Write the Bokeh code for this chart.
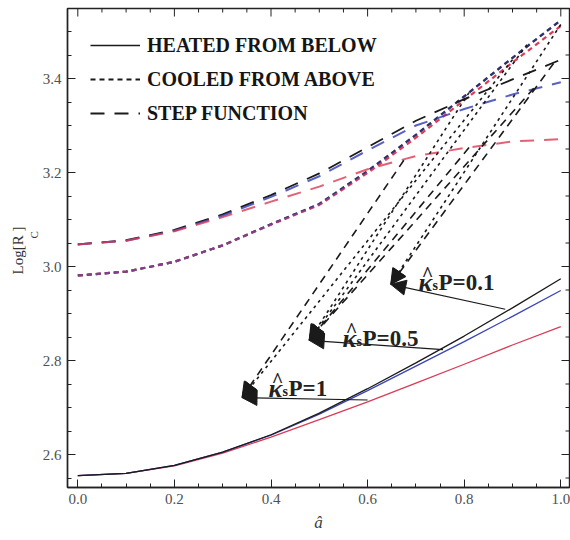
import math
from bokeh.plotting import figure
from bokeh.models import (Range1d, FixedTicker, Label, Arrow, NormalHead, Title,
                          ColumnDataSource, Legend, LegendItem, PrintfTickFormatter)
from bokeh.embed import file_html
from bokeh.resources import INLINE

# ---------------- data ----------------
a_hat = [0.0, 0.1, 0.2, 0.3, 0.4, 0.5, 0.6, 0.7, 0.8, 0.9, 1.0]

heated_black = [2.555, 2.560, 2.577, 2.605, 2.642, 2.688, 2.740, 2.795, 2.852, 2.912, 2.974]
heated_blue  = [2.555, 2.560, 2.577, 2.605, 2.641, 2.686, 2.736, 2.788, 2.840, 2.894, 2.949]
heated_red   = [2.555, 2.560, 2.576, 2.603, 2.637, 2.674, 2.712, 2.752, 2.792, 2.833, 2.872]

cooled_black = [2.981, 2.989, 3.010, 3.045, 3.090, 3.133, 3.203, 3.280, 3.362, 3.444, 3.524]
cooled_blue  = [2.981, 2.989, 3.010, 3.045, 3.090, 3.133, 3.203, 3.280, 3.362, 3.444, 3.524]
cooled_red   = [2.981, 2.989, 3.010, 3.045, 3.089, 3.131, 3.199, 3.274, 3.354, 3.434, 3.512]

step_black = [3.047, 3.056, 3.078, 3.111, 3.152, 3.198, 3.254, 3.310, 3.356, 3.398, 3.440]
step_blue  = [3.047, 3.055, 3.076, 3.108, 3.148, 3.192, 3.247, 3.300, 3.335, 3.366, 3.392]
step_red   = [3.047, 3.055, 3.075, 3.105, 3.138, 3.170, 3.207, 3.235, 3.252, 3.266, 3.271]

x_ticks = [0.0, 0.2, 0.4, 0.6, 0.8, 1.0]
y_ticks = [2.6, 2.8, 3.0, 3.2, 3.4]
x_minor = [round(0.05 * i, 2) for i in range(0, 21) if i % 4]
y_minor = [round(2.55 + 0.05 * i, 2) for i in range(0, 20) if (i - 1) % 4]

kappa_values = ["0.1", "0.5", "1"]
tip_x = [0.648, 0.479, 0.340]
tip_y = [2.962, 2.843, 2.721]
solid_from_x = [0.885, 0.756, 0.600]
solid_from_y = [2.909, 2.823, 2.716]

dashed_from_x = [0.985, 0.944, 0.810, 0.675]
dashed_from_y = [3.432, 3.379, 3.253, 3.226]
dashed_to = [0, 1, 1, 2]

dotted_from_x = [1.000, 0.930, 0.810, 0.900]
dotted_from_y = [3.515, 3.472, 3.370, 3.440]
dotted_to = [0, 1, 1, 2]

RED = "#dc3a55"
BLUE = "#3b44b8"
BLACK = "#1a1a1a"
FRAME = "#222222"

# ---------------- pixel helpers for text / tick placement ----------------
PX_X = 483.0
PX_Y = 470.0

def dx(px):
    return (px - 77.3) / PX_X

def dy(py):
    return 3.4 - (py - 78.0) / PX_Y

X0, X1 = dx(67), dx(569)
Y0, Y1 = dy(487), dy(8)

p = figure(width=570, height=540, output_backend="svg", toolbar_location=None,
           x_range=Range1d(X0, X1), y_range=Range1d(Y0, Y1),
           min_border_left=67, min_border_right=1, min_border_top=8, min_border_bottom=53,
           background_fill_color="white", border_fill_color="white")
p.grid.visible = False
p.outline_line_color = FRAME
p.outline_line_width = 1.4

for ax, tk, mn in ((p.xaxis[0], x_ticks, x_minor), (p.yaxis[0], y_ticks, y_minor)):
    ax.ticker = FixedTicker(ticks=tk, minor_ticks=mn)
    ax.formatter = PrintfTickFormatter(format="%.1f")
    ax.axis_line_color = FRAME
    ax.axis_line_width = 1.4
    ax.major_tick_in = 8
    ax.major_tick_out = 0
    ax.minor_tick_in = 4
    ax.minor_tick_out = 0
    ax.major_tick_line_color = FRAME
    ax.minor_tick_line_color = FRAME
    ax.major_label_text_font = "Liberation Serif"
    ax.major_label_text_font_size = "15px"
    ax.major_label_text_color = "#505050"
    ax.major_label_standoff = 6

p.xaxis[0].axis_label = "â"
p.xaxis[0].axis_label_text_font = "Liberation Serif"
p.xaxis[0].axis_label_text_font_style = "italic"
p.xaxis[0].axis_label_text_font_size = "17px"
p.xaxis[0].axis_label_text_color = "#404040"
p.xaxis[0].axis_label_standoff = 6

# ticks on the top and right edges of the frame
p.segment(x0=x_ticks, y0=[Y1] * len(x_ticks), x1=x_ticks, y1=[Y1 - 8 / PX_Y] * len(x_ticks),
          line_color=FRAME, line_width=1)
p.segment(x0=x_minor, y0=[Y1] * len(x_minor), x1=x_minor, y1=[Y1 - 4 / PX_Y] * len(x_minor),
          line_color=FRAME, line_width=1)
p.segment(x0=[X1] * len(y_ticks), y0=y_ticks, x1=[X1 - 8 / PX_X] * len(y_ticks), y1=y_ticks,
          line_color=FRAME, line_width=1)
p.segment(x0=[X1] * len(y_minor), y0=y_minor, x1=[X1 - 4 / PX_X] * len(y_minor), y1=y_minor,
          line_color=FRAME, line_width=1)

# ---------------- curves ----------------
DOT = "5 4"
DASH = "14 10"
r_cool_k = p.line(a_hat, cooled_black, line_color=BLACK, line_width=2.2, line_dash=DOT)
p.line(a_hat, cooled_red, line_color=RED, line_width=2.2, line_dash=DOT)
p.line(a_hat, cooled_blue, line_color=BLUE, line_width=2.2, line_dash=DOT, line_alpha=0.55)

r_step_k = p.line(a_hat, step_black, line_color=BLACK, line_width=1.8, line_dash=DASH)
p.line(a_hat, step_blue, line_color=BLUE, line_width=2.0, line_dash=DASH, line_alpha=0.85)
p.line(a_hat, step_red, line_color=RED, line_width=2.0, line_dash=DASH, line_alpha=0.8)

p.line(a_hat, heated_red, line_color=RED, line_width=1.3)
p.line(a_hat, heated_blue, line_color=BLUE, line_width=1.3)
r_heat_k = p.line(a_hat, heated_black, line_color=BLACK, line_width=1.3)

# ---------------- pointer arrows ----------------
def add_arrows(fx, fy, to_idx, dash, width):
    src = ColumnDataSource(dict(x0=fx, y0=fy,
                                x1=[tip_x[i] for i in to_idx],
                                y1=[tip_y[i] for i in to_idx]))
    p.add_layout(Arrow(source=src, x_start="x0", y_start="y0", x_end="x1", y_end="y1",
                       line_color=BLACK, line_width=width, line_dash=dash,
                       end=NormalHead(size=15, fill_color=BLACK, line_color=BLACK)))

add_arrows(dotted_from_x, dotted_from_y, dotted_to, "3 4", 1.6)
add_arrows(dashed_from_x, dashed_from_y, dashed_to, "8 6", 1.6)
add_arrows(solid_from_x, solid_from_y, [0, 1, 2], "solid", 1.2)

# ---------------- kappa labels ----------------
label_left_px = [418, 342, 268]
label_base_px = [282, 338, 388]
for val, lx, by in zip(kappa_values, label_left_px, label_base_px):
    p.add_layout(Label(x=dx(lx), y=dy(by), text="κ", text_font="Liberation Serif",
                       text_font_style="bold italic", text_font_size="26px",
                       text_color="#222222", text_baseline="alphabetic"))
    p.add_layout(Label(x=dx(lx + 9), y=dy(by - 9), text="^", text_font="Liberation Serif",
                       text_font_style="bold", text_font_size="20px", text_color="#222222",
                       text_align="center", text_baseline="alphabetic"))
    p.add_layout(Label(x=dx(lx + 14), y=dy(by + 3), text="s", text_font="Liberation Serif",
                       text_font_style="bold", text_font_size="14px",
                       text_color="#222222", text_baseline="alphabetic"))
    p.add_layout(Label(x=dx(lx + 20), y=dy(by), text="P=" + val, text_font="Liberation Serif",
                       text_font_style="bold", text_font_size="23px",
                       text_color="#222222", text_baseline="alphabetic"))

# ---------------- y axis label: Log[R_C] (two stacked titles in the left panel) ----------------
t_sub = Title(text="C", align="left", offset=487 - 238, standoff=0,
              text_font="Liberation Serif", text_font_size="11px",
              text_font_style="normal", text_color="#333333")
t_main = Title(text="Log[R  ]", align="left", offset=487 - 274, standoff=0,
               text_font="Liberation Serif", text_font_size="15px",
               text_font_style="normal", text_color="#333333")
p.add_layout(t_sub, "left")
p.add_layout(t_main, "left")

# ---------------- legend ----------------
legend = Legend(items=[LegendItem(label="HEATED FROM BELOW", renderers=[r_heat_k]),
                       LegendItem(label="COOLED FROM ABOVE", renderers=[r_cool_k]),
                       LegendItem(label="STEP FUNCTION", renderers=[r_step_k])],
                location="top_left", margin=23, padding=0, spacing=6,
                glyph_width=50, glyph_height=28, label_height=28, label_standoff=7,
                label_text_font="Liberation Serif", label_text_font_style="bold",
                label_text_font_size="20px", label_text_color="#151515",
                border_line_color=None, background_fill_alpha=0)
p.add_layout(legend)

open("out.html", "w").write(file_html(p, INLINE))
